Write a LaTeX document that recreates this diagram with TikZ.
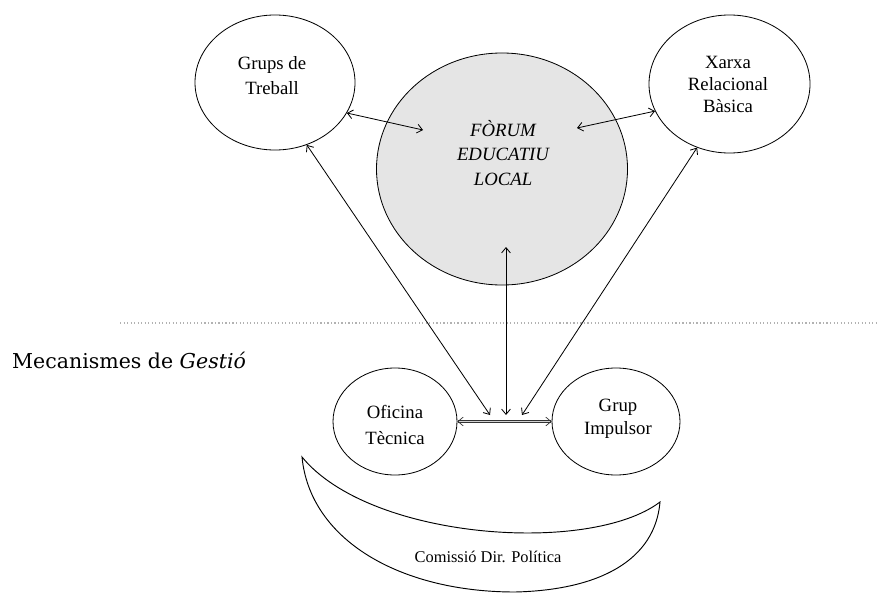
\documentclass[tikz,border=0pt]{standalone}
\usepackage{fontspec}
\setmainfont{Liberation Serif}
\newfontfamily\headfont{DejaVu Serif}
\usetikzlibrary{shapes.geometric,arrows.meta}

\begin{document}
\begin{tikzpicture}[x=0.03cm, y=-0.03cm,
    >={Straight Barb[length=4.5pt, width=7.5pt]},
    bubble/.style={draw, ellipse, line width=0.7pt, inner sep=0pt},
    lbl/.style={align=center, font=\fontsize{16}{21}\selectfont},
    link/.style={<->, line width=0.7pt}]
    \useasboundingbox (0,0) rectangle (879,592);

    % the five bubbles
    \node[bubble, fill=gray!20, minimum width=7.53cm, minimum height=6.96cm] (forum) at (502,169) {};
    \node[bubble, minimum width=4.8cm, minimum height=4.05cm] (grups) at (275,82.5) {};
    \node[bubble, minimum width=4.83cm, minimum height=4.14cm] (xarxa) at (729.5,84) {};
    \node[bubble, minimum width=3.72cm, minimum height=3.21cm] (oficina) at (395,421.5) {};
    \node[bubble, minimum width=3.84cm, minimum height=3.21cm] (impulsor) at (616,421.5) {};

    \node[lbl] (grupsT) at (272,75.5) {Grups de\\Treball};
    \node[lbl, font=\fontsize{16}{19}\selectfont] (xarxaT) at (728,84.5) {Xarxa\\Relacional\\Bàsica};
    \node[lbl, font=\fontsize{16}{21}\selectfont\itshape] (forumT) at (503,153) {FÒRUM\\EDUCATIU\\LOCAL};
    \node[lbl, font=\fontsize{16}{22}\selectfont] (oficinaT) at (395,425) {Oficina\\Tècnica};
    \node[lbl, font=\fontsize{16}{19.5}\selectfont] (impulsorT) at (618,418.5) {Grup\\Impulsor};

    % separator
    \coordinate (sepL) at (120,323);
    \coordinate (sepR) at (879,323);
    \draw[gray!60, dotted, line width=1pt] (sepL) -- (sepR);
    \node[anchor=base west, inner sep=0pt, font=\headfont\fontsize{17.5}{20}\selectfont] (mecanismes) at (12,368) {Mecanismes de \textit{Gestió}};

    % crescent
    \draw[line width=0.8pt, fill=white] (302,457) .. controls (370,540) and (590,555) .. (660,502)
        .. controls (655,560) and (600,590) .. (515,592)
        .. controls (400,592) and (310,540) .. (302,457) -- cycle;
    \node[font=\fontsize{14}{16}\selectfont] (comissio) at (488,557) {Comissió Dir. Política};

    % arrows
    \coordinate (forumL) at (423,130);
    \coordinate (forumR) at (577,128);
    \coordinate (forumB) at (506,247);
    \coordinate (hubL) at (490,415);
    \coordinate (hubM) at (506,415);
    \coordinate (hubR) at (522,415);
    \draw[link] (grups.-23) -- (forumL);
    \draw[link] (xarxa.200) -- (forumR);
    \draw[link] (grups.-63) -- (hubL);
    \draw[link] (xarxa.243) -- (hubR);
    \draw[link] (forumB) -- (hubM);
    \draw[<->, draw=black!80, double=gray!35, double distance=1.3pt, line width=0.6pt] (oficina.east) -- (impulsor.west);
\end{tikzpicture}
\end{document}
